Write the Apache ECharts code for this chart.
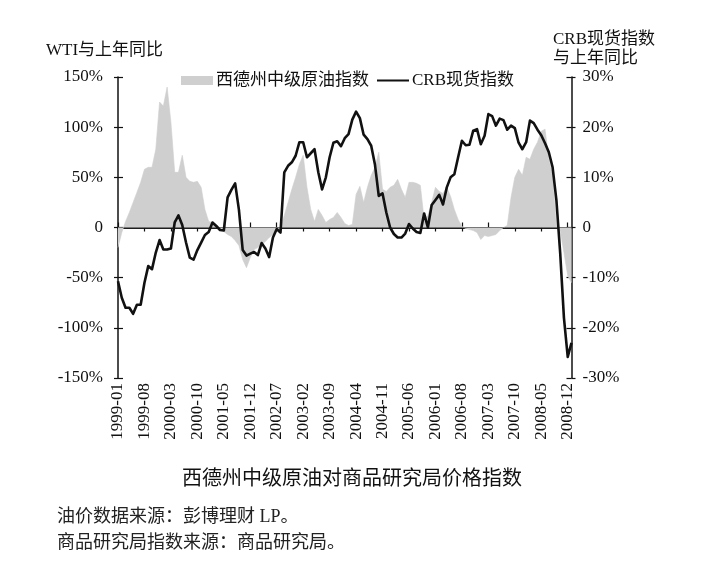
<!DOCTYPE html>
<html>
<head>
<meta charset="utf-8">
<script src="https://cdn.jsdelivr.net/npm/echarts@6/dist/echarts.min.js"></script>
<style>
html,body{margin:0;padding:0;background:#fff;}
#c{width:718px;height:568px;}
</style>
</head>
<body>
<div id="c"></div>
<script>
// ---- data (monthly, 1999-01 .. 2009-01) ----
var startYear = 1999;
var months = [];
for (var k = 0; k < 121; k++) {
  var yy = startYear + Math.floor(k / 12);
  var mm = (k % 12) + 1;
  months.push(yy + '-' + (mm < 10 ? '0' + mm : mm));
}
// WTI year-over-year change, % (left axis)
var wtiYoY = [
 -20,-5,6,15,25,35,45,58,60,60,
 78,125,121,140,105,55,55,72,50,46,
 45,46,40,18,6,5,3,-1,-4,-7,
 -9,-13,-18,-32,-40,-30,-22,-20,-17,-14,
 -10,-7,-4,0,12,25,38,50,63,72,
 40,18,6,18,12,5,8,10,15,10,
 4,2,3,33,41,25,40,52,60,75,
 38,36,40,42,48,38,30,45,45,44,
 42,8,12,25,40,36,34,40,31,18,
 8,1,-1,-2,-3,-5,-12,-8,-9,-8,
 -7,-3,0,2,30,50,58,52,70,68,
 78,85,96,98,68,52,2,-3,-25,-48,
 -55
];
// CRB spot index year-over-year change, % (right axis)
var crbYoY = [
 -10.7,-14,-16,-16,-17.2,-15.4,-15.4,-11,-7.7,-8.3,
 -5,-2.5,-4.4,-4.4,-4.2,1,2.4,0.5,-3,-6,
 -6.4,-4.5,-3,-1.5,-0.9,1,0.3,-0.5,-0.6,6,
 7.5,8.8,3.5,-4.5,-5.6,-5.2,-4.9,-5.5,-3.1,-4.2,
 -5.9,-2,-0.3,-1,11,12.3,13,14.3,17,17,
 14,14.8,15.6,11,7.6,10,14,16.9,17.2,16.2,
 17.8,18.6,21.5,23.1,21.8,18.5,17.6,16.3,12.5,6.3,
 6.8,3,0,-1.3,-2,-2,-1.2,0.7,-0.2,-0.9,
 -1.1,2.8,0,4.5,5.5,6.5,4.6,8,10,10.6,
 14,17.3,16.4,16.5,19.3,19.6,16.6,18.3,22.6,22.2,
 20.3,21.7,21.4,19.5,20.3,19.8,16.9,15.6,17,21.3,
 20.8,19.5,18.4,16.8,15,12,5.5,-5,-18,-25.8,
 -23
];
var leftTicks = [-150, 150, 50];   // min, max, step
var rightTicks = [-30, 30, 10];

var SERIF = '"Liberation Serif","Noto Sans CJK SC",serif';
var CJK = '"Liberation Serif","Noto Sans CJK SC",sans-serif';

var chart = echarts.init(document.getElementById('c'), null, {renderer: 'canvas'});

function pctFmt(v) { return v === 0 ? '0' : v + '%'; }

var axisLineStyle = {color: '#111', width: 1.5};

var option = {
  backgroundColor: '#fff',
  animation: false,
  grid: {left: 118, right: 146.5, top: 77, bottom: 190, containLabel: false},
  title: [
    {text: 'WTI与上年同比', left: 41, top: 37,
     textStyle: {fontFamily: CJK, fontSize: 17, fontWeight: 'normal', color: '#111'}},
    {text: 'CRB现货指数\n与上年同比', left: 548, top: 25,
     textStyle: {fontFamily: CJK, fontSize: 17, fontWeight: 'normal', color: '#111', lineHeight: 19}},
    {text: '西德州中级原油对商品研究局价格指数', left: 347, top: 465, textAlign: 'center',
     textStyle: {fontFamily: CJK, fontSize: 20, fontWeight: 'normal', color: '#111'}},
    {text: '油价数据来源：彭博理财 LP。', left: 52, top: 503,
     textStyle: {fontFamily: CJK, fontSize: 18, fontWeight: 'normal', color: '#222'}},
    {text: '商品研究局指数来源：商品研究局。', left: 52, top: 529,
     textStyle: {fontFamily: CJK, fontSize: 18, fontWeight: 'normal', color: '#222'}}
  ],
  legend: {
    left: 176, top: 67,
    itemWidth: 32, itemHeight: 9, itemGap: 8,
    selectedMode: false,
    textStyle: {fontFamily: CJK, fontSize: 17, color: '#111', padding: [0, 0, 0, -2]},
    data: [
      {name: '西德州中级原油指数', icon: 'rect', itemStyle: {color: '#cfcfcf'}},
      {name: 'CRB现货指数', icon: 'path://M0,0 L32,0 L32,2.2 L0,2.2 Z', itemStyle: {color: '#111'}}
    ]
  },
  xAxis: [
    { // zero line, ticks upward
      type: 'category', data: months, boundaryGap: false,
      axisLine: {show: true, onZero: true, lineStyle: axisLineStyle},
      axisTick: {show: true, inside: true, length: 5, interval: 6, lineStyle: {color: '#111', width: 1.2}},
      axisLabel: {show: false}, splitLine: {show: false}
    },
    { // zero line, ticks downward
      type: 'category', data: months, boundaryGap: false, position: 'bottom',
      axisLine: {show: true, onZero: true, lineStyle: axisLineStyle},
      axisTick: {show: true, inside: false, length: 4, interval: 6, lineStyle: {color: '#111', width: 1.2}},
      axisLabel: {show: false}, splitLine: {show: false}
    },
    { // labels at the bottom
      type: 'category', data: months, boundaryGap: false, position: 'bottom',
      axisLine: {show: false, onZero: false},
      axisTick: {show: false},
      axisLabel: {show: true, interval: 6, rotate: 90, margin: 5,
                  fontFamily: SERIF, fontSize: 17, color: '#111'},
      splitLine: {show: false}
    }
  ],
  yAxis: [
    {
      type: 'value', position: 'left', min: leftTicks[0], max: leftTicks[1], interval: leftTicks[2],
      axisLine: {show: true, lineStyle: axisLineStyle},
      axisTick: {show: true, length: 4, lineStyle: {color: '#111', width: 1.2}},
      axisLabel: {formatter: pctFmt, margin: 15, fontFamily: SERIF, fontSize: 17, color: '#111'},
      splitLine: {show: false}
    },
    {
      type: 'value', position: 'right', min: rightTicks[0], max: rightTicks[1], interval: rightTicks[2],
      axisLine: {show: true, lineStyle: axisLineStyle},
      axisTick: {show: true, length: 4, lineStyle: {color: '#111', width: 1.2}},
      axisLabel: {formatter: pctFmt, margin: 11, fontFamily: SERIF, fontSize: 17, color: '#111'},
      splitLine: {show: false}
    },
    {
      type: 'value', position: 'left', min: leftTicks[0], max: leftTicks[1], interval: leftTicks[2],
      axisLine: {show: false}, axisLabel: {show: false}, splitLine: {show: false},
      axisTick: {show: true, inside: true, length: 5, lineStyle: {color: '#111', width: 1.2}}
    },
    {
      type: 'value', position: 'right', min: rightTicks[0], max: rightTicks[1], interval: rightTicks[2],
      axisLine: {show: false}, axisLabel: {show: false}, splitLine: {show: false},
      axisTick: {show: true, inside: true, length: 5, lineStyle: {color: '#111', width: 1.2}}
    }
  ],
  series: [
    {
      name: '西德州中级原油指数', type: 'line', xAxisIndex: 0, yAxisIndex: 0,
      data: wtiYoY, showSymbol: false, symbol: 'none',
      lineStyle: {width: 0.6, color: '#cfcfcf'},
      itemStyle: {color: '#cfcfcf'},
      areaStyle: {color: '#cfcfcf', opacity: 1},
      z: 1
    },
    {
      name: 'CRB现货指数', type: 'line', xAxisIndex: 0, yAxisIndex: 1,
      data: crbYoY, showSymbol: false, symbol: 'none',
      lineStyle: {width: 2.6, color: '#111', join: 'round'},
      itemStyle: {color: '#111'},
      z: 5
    }
  ]
};
chart.setOption(option);
</script>
</body>
</html>
